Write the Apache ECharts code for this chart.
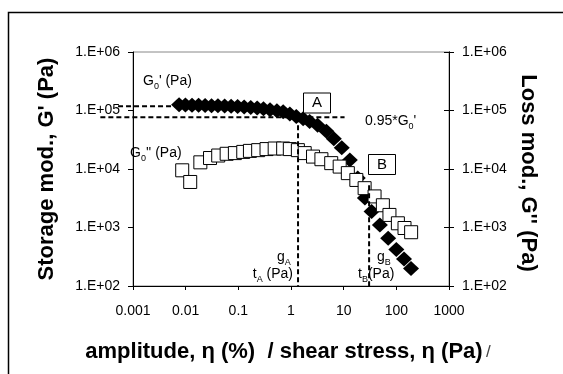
<!DOCTYPE html>
<html>
<head>
<meta charset="utf-8">
<script src="https://cdn.jsdelivr.net/npm/echarts@6/dist/echarts.min.js"></script>
<style>html,body{margin:0;padding:0;background:#fff}#c{width:563px;height:374px}</style>
</head>
<body>
<div id="c"></div>
<script>
// ---- data ----
const storageX = [0.0075,0.0099,0.0132,0.0176,0.0234,0.031,0.041,0.055,0.073,0.097,0.129,0.172,0.228,0.30,0.40,0.54,0.71,0.95,1.26,1.7,2.26,3.2,4.7,6.5,9.2,13.1,18.5,25.3,33.9,48.7,70,100,140,190];
const storageG = [125000,124000,123500,123000,122000,121000,120000,119000,118000,116500,115000,113000,110000,107000,103000,99000,95000,87000,79000,72000,65000,56000,44000,33000,23000,14300,7000,3200,1870,1100,655,420,290,200];
const lossX = [0.0086,0.0122,0.019,0.029,0.0415,0.060,0.086,0.124,0.166,0.238,0.343,0.49,0.71,0.95,1.35,1.82,2.62,3.78,5.8,8.4,12,17.4,25,38.6,55.5,74,107,143,191];
const lossG = [9500,6000,13000,15400,17000,18200,18700,19600,20400,21000,21900,22400,22400,21900,21000,18700,16300,14700,12600,11000,8500,6500,4700,3400,2400,1640,1180,980,830];
const xTickLabels = ['0.001','0.01','0.1','1','10','100','1000'];
const yTickLabels = ['1.E+02','1.E+03','1.E+04','1.E+05','1.E+06'];
// annotation guide lines (data space)
const lineG0 = [[0.00052,118000],[0.0063,118000]];
const line095 = [[0.00024,77000],[10.4,77000]];
const lineA = [[1.36,77000],[1.36,100]];
const lineB = [[30.4,5300],[30.4,100]];

const FONT = '"Liberation Sans", Arial, sans-serif';
const chart = echarts.init(document.getElementById('c'), null, {renderer:'canvas'});

const yAxisCommon = {
  type:'log', logBase:10, min:100, max:1000000, splitNumber:4,
  axisLine:{show:true, lineStyle:{color:'#000', width:1}},
  splitLine:{show:false}, minorTick:{show:false},
  axisLabel:{fontFamily:FONT, fontSize:14, color:'#000', margin:13,
    formatter:v=>yTickLabels[Math.round(Math.log10(v))-2]}
};

chart.setOption({
  animation:false,
  backgroundColor:'#fff',
  grid:{left:133, top:52, width:316, height:234, show:true, borderColor:'#888', borderWidth:1, backgroundColor:'transparent'},
  xAxis:{type:'log', logBase:10, min:0.001, max:1000, splitNumber:6,
    axisLine:{show:true, onZero:false, lineStyle:{color:'#000', width:1}},
    axisTick:{show:true, inside:false, length:4, lineStyle:{color:'#000'}},
    splitLine:{show:false}, minorTick:{show:false},
    axisLabel:{fontFamily:FONT, fontSize:14, color:'#000', margin:18,
      formatter:v=>xTickLabels[Math.round(Math.log10(v))+3]}
  },
  yAxis:[
    Object.assign({}, yAxisCommon, {position:'left', axisTick:{show:true, length:5, lineStyle:{color:'#000'}}}),
    Object.assign({}, yAxisCommon, {position:'right', axisTick:{show:true, length:5, lineStyle:{color:'#000'}}}),
    Object.assign({}, yAxisCommon, {position:'right', axisLabel:{show:false}, axisTick:{show:true, inside:true, length:5, lineStyle:{color:'#000'}}})
  ],
  series:[
    {type:'scatter', name:"G'", yAxisIndex:0, symbol:'diamond', symbolSize:[16,15],
     itemStyle:{color:'#000', opacity:1}, data:storageX.map((x,i)=>[x,storageG[i]]), z:2},
    {type:'scatter', name:"G''", yAxisIndex:0, symbol:'rect', symbolSize:13,
     itemStyle:{color:'#fff', borderColor:'#000', borderWidth:1, opacity:1}, data:lossX.map((x,i)=>[x,lossG[i]]), z:3}
  ]
});

function px(p){ return chart.convertToPixel({xAxisIndex:0, yAxisIndex:0}, p); }
function dash(seg){
  const a = px(seg[0]), b = px(seg[1]);
  return {type:'line', z:50, silent:true,
    shape:{x1:a[0], y1:a[1], x2:b[0], y2:b[1]},
    style:{stroke:'#000', lineWidth:2, lineDash:[5,3]}};
}
const sub = {fontSize:9, fontFamily:FONT, verticalAlign:'bottom', padding:[0,0,-3,0], fill:'#000'};
function txt(x,y,text,opts){
  return Object.assign({type:'text', z:60, silent:true, x:x, y:y,
    style:Object.assign({text:text, fontFamily:FONT, fontSize:14, fill:'#000',
      rich:{n:{fontFamily:FONT, fontSize:14, fill:'#000'}, s:sub}}, opts||{})});
}
function box(cx,cy,label){
  return {type:'group', z:60, children:[
    {type:'rect', shape:{x:cx-13.5, y:cy-10, width:27, height:20}, style:{fill:'#fff', stroke:'#000', lineWidth:1}, z:60},
    {type:'text', x:cx, y:cy, z:61, style:{text:label, fontFamily:FONT, fontSize:15, fill:'#000', align:'center', verticalAlign:'middle'}}
  ]};
}

chart.setOption({graphic:[
  {type:'polyline', z:70, silent:true, shape:{points:[[8.5,374],[8.5,12.5],[563,12.5]]}, style:{stroke:'#000', lineWidth:1.5, fill:null}},
  dash(lineG0), dash(line095), dash(lineA), dash(lineB),
  txt(143, 81, "{n|G}{s|0}{n|' (Pa)}", {verticalAlign:'middle'}),
  txt(130, 153, "{n|G}{s|0}{n|'' (Pa)}", {verticalAlign:'middle'}),
  txt(365, 121, "{n|0.95*G}{s|0}{n|'}", {verticalAlign:'middle'}),
  box(317, 103, 'A'),
  box(382, 164.5, 'B'),
  txt(277, 257, "{n|g}{s|A}", {verticalAlign:'middle'}),
  txt(293, 274, "{n|t}{s|A}{n| (Pa)}", {verticalAlign:'middle', align:'right'}),
  txt(377, 257, "{n|g}{s|B}", {verticalAlign:'middle'}),
  txt(358, 274, "{n|t}{s|B}{n|(Pa)}", {verticalAlign:'middle'}),
  {type:'text', z:60, x:47, y:169, rotation:Math.PI/2,
   style:{text:"Storage mod., G' (Pa)", fontFamily:FONT, fontWeight:'bold', fontSize:22, fill:'#000', align:'center', verticalAlign:'middle'}},
  {type:'text', z:60, x:528, y:173, rotation:-Math.PI/2,
   style:{text:"Loss mod., G'' (Pa)", fontFamily:FONT, fontWeight:'bold', fontSize:22, fill:'#000', align:'center', verticalAlign:'middle'}},
  {type:'text', z:60, x:288, y:352,
   style:{text:"{b|amplitude, η (%)  / shear stress, η (Pa)} {l|/}", fontFamily:FONT, fill:'#000', align:'center', verticalAlign:'middle',
     rich:{b:{fontFamily:FONT, fontWeight:'bold', fontSize:22, fill:'#000'}, l:{fontFamily:FONT, fontSize:17, fill:'#444'}}}}
]});
</script>
</body>
</html>
